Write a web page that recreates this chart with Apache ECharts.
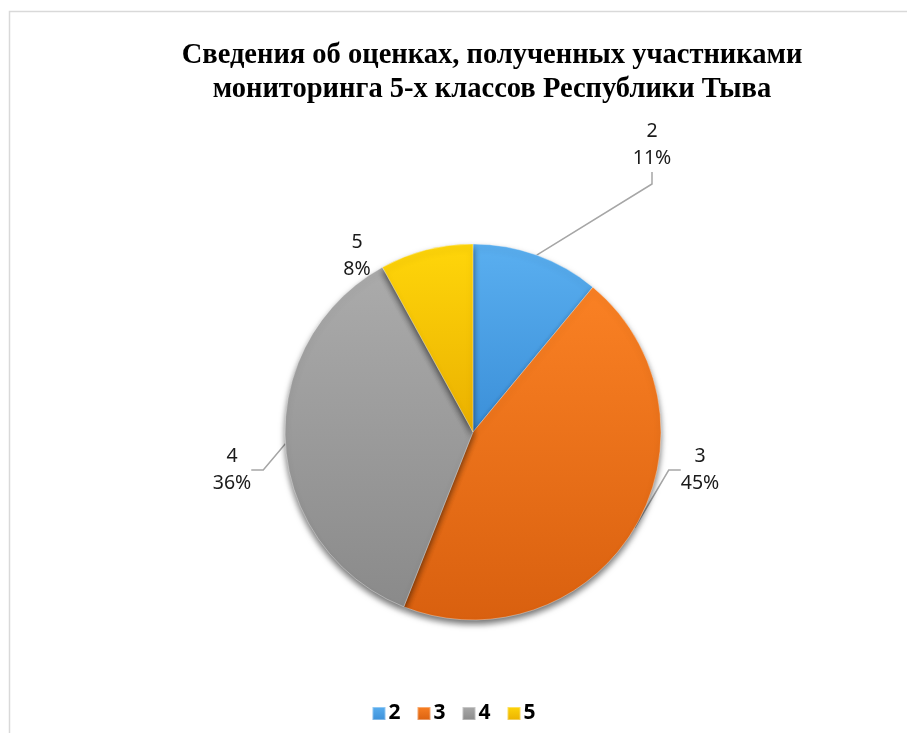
<!DOCTYPE html>
<html>
<head>
<meta charset="utf-8">
<script src="https://cdn.jsdelivr.net/npm/echarts@6/dist/echarts.min.js"></script>
<style>
html,body{margin:0;padding:0;background:#fff;}
#chart{width:907px;height:733px;}
</style>
</head>
<body>
<div id="chart"></div>
<script>
// оценки и доли участников
var grades = ['2', '3', '4', '5'];
var shares = [11, 45, 36, 8];

// цвета секторов: верх / низ градиента
var topColors = ['#5aaff0', '#fa8124', '#ababab', '#ffd60a'];
var bottomColors = ['#3b8fd8', '#d9600f', '#8a8a8a', '#eab000'];

// куда поставить подписи (центр текста)
var labelPos = [[652, 145], [700, 470], [232, 470], [357, 256]];

function makeData(names, values) {
	var out = new Array();
	for (var k in values) {
		out[k] = {
			name: names[k],
			value: values[k],
			itemStyle: {
				color: new echarts.graphic.LinearGradient(0, 0, 0, 1, [
					{offset: 0, color: topColors[k]},
					{offset: 1, color: bottomColors[k]}
				])
			}
		};
	}
	// у "5" линии выноски не видно
	out[3].labelLine = {show: false};
	return out;
}

var myChart = echarts.init(document.getElementById('chart'));
var option = {
	animation: false,
	color: topColors,
	title: {
		text: 'Сведения об оценках, полученных участниками\nмониторинга 5-х классов Республики Тыва',
		left: 487,
		top: 34,
		textAlign: 'center',
		textStyle: {
			fontFamily: 'Liberation Serif',
			fontWeight: 'bold',
			fontSize: 28.5,
			lineHeight: 34,
			color: '#000'
		}
	},
	graphic: [{
		type: 'rect',
		shape: {x: 9.5, y: 11.5, width: 920, height: 740},
		style: {fill: 'none', stroke: '#d9d9d9', lineWidth: 1.5},
		silent: true
	}],
	legend: {
		data: grades,
		bottom: 4,
		left: 'center',
		itemWidth: 13,
		itemHeight: 13,
		itemGap: 16,
		icon: 'rect',
		textStyle: {
			fontFamily: 'Noto Sans',
			fontWeight: 'bold',
			fontSize: 21,
			color: '#000',
			padding: [0, 0, 0, -2]
		}
	},
	series: [{
		type: 'pie',
		center: [473, 432],
		radius: 188,
		startAngle: 90,
		clockwise: true,
		data: makeData(grades, shares),
		itemStyle: {
			borderColor: 'rgba(255,255,255,0.35)',
			borderWidth: 1,
			shadowColor: 'rgba(0,0,0,0.55)',
			shadowBlur: 6,
			shadowOffsetY: 4
		},
		label: {
			show: true,
			formatter: '{b}\n{d}%',
			fontFamily: 'Noto Sans',
			fontSize: 19.5,
			lineHeight: 27,
			color: '#1a1a1a',
			align: 'center'
		},
		labelLine: {
			show: true,
			length: 20,
			length2: 12,
			lineStyle: {color: '#a6a6a6', width: 1.5}
		},
		labelLayout: function (params) {
			var p = labelPos[params.dataIndex];
			return {x: p[0], y: p[1], align: 'center', verticalAlign: 'middle'};
		}
	}]
};
myChart.setOption(option);
</script>
</body>
</html>
